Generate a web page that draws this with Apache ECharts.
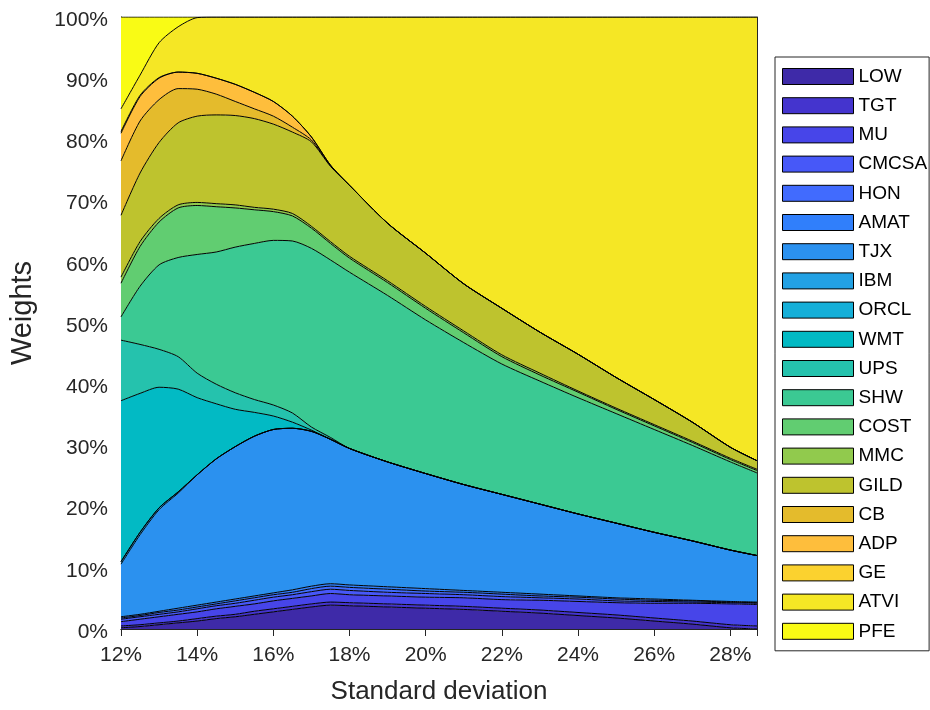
<!DOCTYPE html>
<html><head><meta charset="utf-8">
<script src="https://cdn.jsdelivr.net/npm/echarts@6/dist/echarts.min.js"></script>
<style>html,body{margin:0;padding:0;background:#fff}#c{width:930px;height:710px}</style>
</head><body><div id="c"></div>
<script>
// Standard deviation (%) sample points
const sigma = [12, 12.5, 13, 13.5, 14, 14.5, 15, 15.5, 16, 16.5, 17, 17.5, 18, 19, 20, 21, 22, 23, 24, 25, 26, 27, 28, 28.7];
const assets = ['LOW','TGT','MU','CMCSA','HON','AMAT','TJX','IBM','ORCL','WMT','UPS','SHW','COST','MMC','GILD','CB','ADP','GE','ATVI','PFE'];
// Weights (%) per asset at each sigma
const LOW   = [0.2,0.4,0.7,1.0,1.3,1.7,2.0,2.4,2.8,3.2,3.6,3.9,3.8,3.6,3.4,3.2,2.9,2.6,2.2,1.8,1.3,0.8,0.2,0.0];
const TGT   = [0.3,0.3,0.3,0.3,0.4,0.4,0.4,0.5,0.5,0.5,0.5,0.5,0.5,0.5,0.5,0.5,0.5,0.5,0.5,0.5,0.5,0.5,0.5,0.5];
const MU    = [0.7,0.9,1.0,1.1,1.1,1.2,1.3,1.2,1.3,1.3,1.3,1.4,1.3,1.3,1.3,1.4,1.4,1.6,1.8,2.0,2.4,2.9,3.4,3.5];
const CMCSA = [0.4,0.4,0.4,0.4,0.5,0.5,0.5,0.6,0.6,0.6,0.7,0.7,0.7,0.6,0.6,0.5,0.5,0.4,0.4,0.3,0.3,0.2,0.2,0.2];
const HON   = [0.2,0.2,0.3,0.3,0.3,0.3,0.4,0.4,0.4,0.4,0.5,0.5,0.5,0.5,0.4,0.4,0.4,0.3,0.3,0.3,0.2,0.2,0.1,0.1];
const AMAT  = [0.2,0.2,0.2,0.3,0.3,0.3,0.3,0.3,0.3,0.4,0.4,0.4,0.4,0.4,0.4,0.3,0.3,0.3,0.2,0.2,0.2,0.1,0.1,0.1];
const TJX   = [8.6,13.0,16.6,18.8,21.3,23.4,24.9,26.1,26.7,26.4,25.3,23.6,22.3,20.4,18.8,17.3,16.0,14.7,13.4,12.2,10.9,9.7,8.4,7.6];
const IBM   = [0.4,0.4,0.3,0.2,0,0,0,0,0,0,0,0,0,0,0,0,0,0,0,0,0,0,0,0];
const ORCL  = [0,0,0,0,0,0,0,0,0,0,0,0,0,0,0,0,0,0,0,0,0,0,0,0];
const WMT   = [26.3,22.7,19.7,16.8,12.6,9.0,6.1,3.9,2.2,1.0,0.2,0,0,0,0,0,0,0,0,0,0,0,0,0];
const UPS   = [9.9,8.0,6.2,5.3,4.0,3.2,2.7,2.1,1.8,1.5,0.5,0.3,0,0,0,0,0,0,0,0,0,0,0,0];
const SHW   = [3.8,9.5,13.8,16.2,19.4,21.6,23.8,25.5,26.9,28.1,29.2,29.0,28.8,27.2,25.1,23.2,21.3,20.1,19.0,17.9,16.8,15.6,14.4,13.5];
const COST  = [5.5,6.5,7.0,8.1,8.0,7.4,6.4,5.5,4.7,4.1,3.3,2.7,2.3,2.1,1.9,1.6,1.2,1.0,0.9,0.7,0.6,0.5,0.4,0.4];
const MMC   = [1.0,0.8,0.6,0.5,0.5,0.5,0.5,0.4,0.4,0.4,0.3,0.3,0.3,0.3,0.3,0.3,0.3,0.3,0.2,0.2,0.2,0.2,0.2,0.2];
const GILD  = [10.1,11.2,12.4,13.4,14.1,14.5,14.6,14.5,13.9,13.3,13.8,12.3,11.6,9.4,8.7,7.7,7.6,6.7,6.0,5.0,4.1,3.1,1.8,1.4];
const CB    = [8.9,8.5,7.0,5.6,4.4,3.4,2.3,1.6,1.3,0.8,0.3,0.1,0,0,0,0,0,0,0,0,0,0,0,0];
const ADP   = [4.5,4.0,3.5,2.7,2.6,2.6,2.8,2.7,2.4,1.8,0.5,0.1,0,0,0,0,0,0,0,0,0,0,0,0];
const GE    = [0.3,0.2,0.1,0,0,0,0,0,0,0,0,0,0,0,0,0,0,0,0,0,0,0,0,0];
const ATVI  = [3.7,3.3,5.7,7.4,9.1,10.0,11.0,12.3,13.8,16.2,19.6,24.2,27.5,33.7,38.6,43.6,47.6,51.5,55.1,58.9,62.5,66.2,70.3,72.5];
const PFE   = [15.0,9.5,4.2,1.6,0.1,0,0,0,0,0,0,0,0,0,0,0,0,0,0,0,0,0,0,0];
const weights = [LOW,TGT,MU,CMCSA,HON,AMAT,TJX,IBM,ORCL,WMT,UPS,SHW,COST,MMC,GILD,CB,ADP,GE,ATVI,PFE];

const colors = ['#3e2aa8','#4434ce','#4745e9','#4758f8','#416bfe','#307ffb','#2b91ef','#22a1e4','#15afd8','#02bac4',
                '#25c2ad','#3bc993','#61cd71','#91ca4d','#bec32e','#e4bb2c','#febe3c','#fbd22f','#f5e725','#f9fb15'];

const F = '"Liberation Sans", Arial, sans-serif';
const AX = '#262626';
const chart = echarts.init(document.getElementById('c'), null, {renderer: 'canvas'});

// data items are [weight, sigma]; encode maps sigma to x so that the weight dimension is the stacked one
const series = assets.map((name, i) => ({
  name: name,
  type: 'line',
  stack: 'w',
  stackStrategy: 'all',
  data: sigma.map((x, j) => [weights[i][j], x]),
  encode: {x: 1, y: 0},
  symbol: 'none',
  smooth: 0.25,
  lineStyle: {color: '#000', width: 1},
  itemStyle: {color: colors[i]},
  areaStyle: {color: colors[i], opacity: 1},
  emphasis: {disabled: true},
  silent: true
}));

const baseX = {
  type: 'value', min: 12, max: 28.7, interval: 2,
  axisLine: {show: true, lineStyle: {color: AX, width: 1}},
  axisTick: {show: true, inside: true, length: 7, lineStyle: {color: AX}},
  splitLine: {show: false}
};
const baseY = {
  type: 'value', min: 0, max: 100, interval: 10,
  axisLine: {show: true, lineStyle: {color: AX, width: 1}},
  axisTick: {show: true, inside: true, length: 7, lineStyle: {color: AX}},
  splitLine: {show: false}
};

chart.setOption({
  animation: false,
  backgroundColor: '#fff',
  grid: {left: 120, top: 17, width: 637, height: 618},
  legend: {
    orient: 'vertical', left: 775, top: 57,
    itemWidth: 71, itemHeight: 16, itemGap: 10.2,
    padding: [10, 2, 10, 7],
    icon: 'rect',
    selectedMode: false,
    borderColor: AX, borderWidth: 1, backgroundColor: '#fff',
    itemStyle: {borderColor: '#000', borderWidth: 1},
    textStyle: {fontFamily: F, fontSize: 19, color: '#000', lineHeight: 16},
    data: assets
  },
  xAxis: [
    Object.assign({}, baseX, {
      position: 'bottom',
      axisLabel: {formatter: '{value}%', showMaxLabel: false, fontFamily: F, fontSize: 21, color: AX, margin: 16},
      name: 'Standard deviation', nameLocation: 'middle', nameGap: 50,
      nameTextStyle: {fontFamily: F, fontSize: 26, color: AX}
    }),
    Object.assign({}, baseX, {position: 'top', axisLabel: {show: false}})
  ],
  yAxis: [
    Object.assign({}, baseY, {
      position: 'left',
      axisLabel: {formatter: '{value}%', fontFamily: F, fontSize: 21, color: AX, margin: 13,
                  verticalAlign: 'top', lineHeight: 6},
      name: 'Weights', nameLocation: 'middle', nameGap: 84, nameRotate: 90,
      nameTextStyle: {fontFamily: F, fontSize: 29, color: AX, padding: [0, 0, 0, 20]}
    }),
    Object.assign({}, baseY, {position: 'right', axisLabel: {show: false}})
  ],
  series: series
});
</script>
</body></html>
